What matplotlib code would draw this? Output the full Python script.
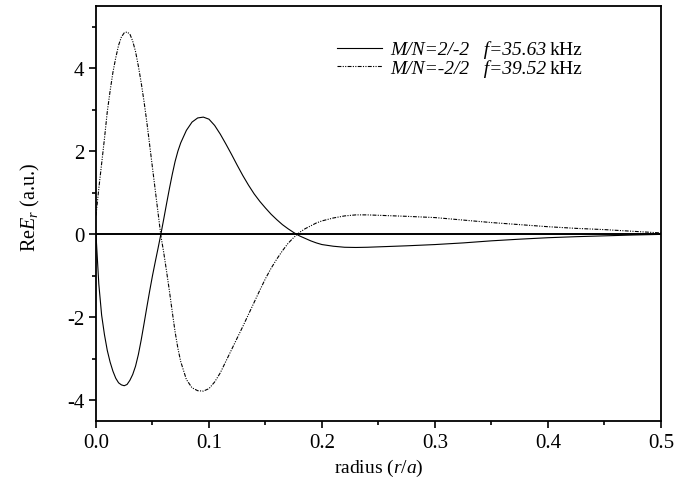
import matplotlib
matplotlib.use("Agg")
import matplotlib.pyplot as plt
from matplotlib.ticker import MultipleLocator

plt.rcParams['font.family'] = ['Liberation Serif', 'DejaVu Serif']
plt.rcParams['mathtext.fontset'] = 'custom'
plt.rcParams['mathtext.rm'] = 'Liberation Serif'
plt.rcParams['mathtext.it'] = 'Liberation Serif:italic'

r = [0.0, 0.0025, 0.005, 0.0075, 0.01, 0.0125, 0.015, 0.0175, 0.02, 0.0225, 0.025, 0.0275,
     0.03, 0.0325, 0.035, 0.0375, 0.04, 0.0425, 0.045, 0.0475, 0.05, 0.0525, 0.055, 0.0575,
     0.06, 0.0625, 0.065, 0.0675, 0.07, 0.0725, 0.075, 0.08, 0.085, 0.09, 0.095, 0.1, 0.105,
     0.11, 0.115, 0.12, 0.125, 0.13, 0.135, 0.14, 0.145, 0.15, 0.155, 0.16, 0.165, 0.17,
     0.175, 0.18, 0.185, 0.19, 0.195, 0.2, 0.21, 0.22, 0.23, 0.24, 0.25, 0.275, 0.3,
     0.325, 0.35, 0.375, 0.4, 0.425, 0.45, 0.475, 0.5]

er_22 = [0.0, -1.2, -1.95, -2.42, -2.8, -3.08, -3.3, -3.47, -3.58, -3.63, -3.65, -3.62,
         -3.52, -3.38, -3.18, -2.9, -2.55, -2.16, -1.76, -1.37, -1.0, -0.66, -0.33, 0.01,
         0.37, 0.74, 1.1, 1.44, 1.75, 2.0, 2.2, 2.5, 2.7, 2.8, 2.82, 2.77, 2.62,
         2.41, 2.17, 1.92, 1.66, 1.41, 1.18, 0.97, 0.79, 0.63, 0.48, 0.35, 0.23, 0.13,
         0.04, -0.04, -0.1, -0.16, -0.21, -0.25, -0.29, -0.315, -0.32, -0.315, -0.305, -0.28, -0.25,
         -0.21, -0.16, -0.12, -0.085, -0.06, -0.04, -0.02, -0.005]

er_m22 = [0.45, 1.1, 1.7, 2.3, 2.95, 3.45, 3.9, 4.25, 4.55, 4.75, 4.85, 4.87,
          4.82, 4.65, 4.4, 4.05, 3.65, 3.2, 2.7, 2.15, 1.6, 1.05, 0.5, -0.05,
          -0.45, -0.9, -1.37, -1.87, -2.35, -2.75, -3.07, -3.5, -3.7, -3.77, -3.78, -3.72, -3.56,
          -3.34, -3.06, -2.78, -2.5, -2.22, -1.93, -1.64, -1.35, -1.07, -0.82, -0.6, -0.4, -0.22,
          -0.08, 0.04, 0.13, 0.2, 0.27, 0.32, 0.39, 0.44, 0.465, 0.465, 0.455, 0.43, 0.40,
          0.34, 0.28, 0.23, 0.18, 0.14, 0.11, 0.07, 0.03]

labels = ["M/N=2/-2   f=35.63", "M/N=-2/2   f=39.52"]
unit = "kHz"

fig = plt.figure(figsize=(6.94, 4.89), dpi=100)
ax = fig.add_axes([0.1383, 0.137, 0.8141, 0.849])

ax.axhline(0, color='black', lw=1.4, zorder=1)
ax.plot(r, er_22, color='black', lw=0.8, label=labels[0], zorder=3)
ax.plot(r, er_m22, color='black', lw=0.8, linestyle=(0, (3.5, 1.2, 1, 1.2, 1, 1.2)),
        label=labels[1], zorder=3)

ax.set_xlim(0, 0.5)
ax.set_ylim(-4.5, 5.5)
ax.xaxis.set_minor_locator(MultipleLocator(0.05))
ax.yaxis.set_minor_locator(MultipleLocator(1))
ax.set_xticks([0, 0.1, 0.2, 0.3, 0.4, 0.5])
ax.set_xticklabels(["0.0", "0.1", "0.2", "0.3", "0.4", "0.5"])
ax.set_yticks([-4, -2, 0, 2, 4])
ax.set_yticklabels(["-4", "-2", "0", "2", "4"])
ax.tick_params(which='major', direction='out', length=5, width=1.2, labelsize=15)
ax.tick_params(which='minor', direction='out', length=3, width=1.2)
for s in ax.spines.values():
    s.set_linewidth(1.3)

ax.set_xlabel(r"radius ($r/a$)", fontsize=14, labelpad=4)
ax.set_ylabel(r"Re$E_r$ (a.u.)", fontsize=14.5)
ax.yaxis.set_label_coords(-0.095, 0.517)

leg = ax.legend(loc='upper left', bbox_to_anchor=(0.41, 0.94), frameon=False,
                prop={'family': 'Liberation Serif', 'style': 'italic', 'size': 14},
                handlelength=2.3, handletextpad=0.4, labelspacing=0.05, borderpad=0)

fig.canvas.draw()
rend = fig.canvas.get_renderer()
inv = fig.transFigure.inverted()
for t in leg.get_texts():
    bb = t.get_window_extent(rend)
    x0, y0 = inv.transform((bb.x1 + 4, (bb.y0 + bb.y1) / 2))
    fig.text(x0, y0, unit, fontsize=14, va='center', ha='left',
             family='Liberation Serif')

fig.savefig("out.png", dpi=100)
